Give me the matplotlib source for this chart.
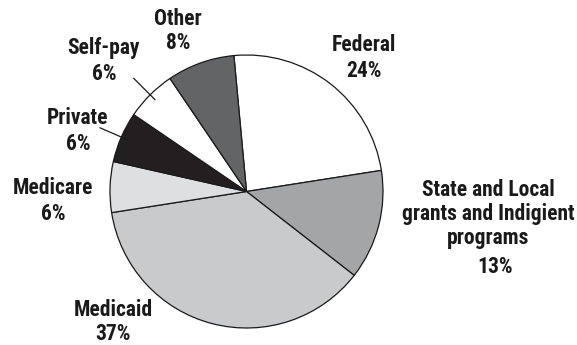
import numpy as np
import matplotlib
matplotlib.use('Agg')
import matplotlib.pyplot as plt

names = ['Federal', 'State and Local\ngrants and Indigient\nprograms', 'Medicaid',
         'Medicare', 'Private', 'Self-pay', 'Other']
shares = [24, 13, 37, 6, 6, 6, 8]
colors = ['#ffffff', '#a4a5a7', '#c9cacc', '#dedfe1', '#231f20', '#ffffff', '#636466']

W, H = 577, 345
fig = plt.figure(figsize=(W / 100, H / 100), dpi=100)
ax = fig.add_axes([0, 0, 1, 1])

cx, cy, R = 246.5, H - 191.5, 136.5
wedges, _ = ax.pie(shares, colors=colors, startangle=95.3, counterclock=False,
                   center=(cx, cy), radius=R, frame=True,
                   wedgeprops=dict(edgecolor='#1a1a1a', linewidth=0.9))
ax.set_xlim(0, W)
ax.set_ylim(0, H)
ax.set_aspect('equal')
ax.axis('off')

# label anchor (image coords, y down) and line spacing
label_pos = {
    'Federal': (364, 58, 1.2),
    'Medicaid': (113, 322, 1.15),
    'Medicare': (53, 201, 1.2),
    'Private': (78, 131, 1.24),
    'Self-pay': (104, 61, 1.2),
    'Other': (178, 31, 1.06),
}
txt = dict(fontsize=15.5, fontweight='heavy', family=['Roboto Condensed', 'DejaVu Sans'],
           ha='center', va='center', color='#1a1a1a')
for name, share in zip(names, shares):
    if name in label_pos:
        x, y, ls = label_pos[name]
        ax.text(x, H - y, f'{name}\n{share}%', linespacing=ls, **txt)
ax.text(488, H - 214, names[1], linespacing=1.1, **txt)
ax.text(495, H - 267, f'{shares[1]}%', **txt)

# leader lines for the two small slices on the left
for w in (wedges[4], wedges[5]):
    mid = np.deg2rad((w.theta1 + w.theta2) / 2)
    r = np.array([0.95, 1.17]) * R
    ax.plot(cx + r * np.cos(mid), cy + r * np.sin(mid), color='#1a1a1a', lw=0.9)

fig.savefig('out.png', dpi=100)
